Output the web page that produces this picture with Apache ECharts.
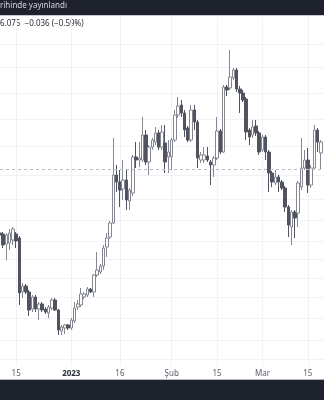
<!DOCTYPE html>
<html><head><meta charset="utf-8">
<script src="https://cdn.jsdelivr.net/npm/echarts@6/dist/echarts.min.js"></script>
<style>html,body{margin:0;padding:0;background:#fff;}#c{width:324px;height:400px;}</style>
</head><body><div id="c"></div>
<script>
const dates = [
'2022-12-10','2022-12-11','2022-12-12','2022-12-13','2022-12-14','2022-12-15','2022-12-16','2022-12-17','2022-12-18','2022-12-19',
'2022-12-20','2022-12-21','2022-12-22','2022-12-23','2022-12-24','2022-12-25','2022-12-26','2022-12-27','2022-12-28','2022-12-29',
'2022-12-30','2022-12-31','2023-01-01','2023-01-02','2023-01-03','2023-01-04','2023-01-05','2023-01-06','2023-01-07','2023-01-08',
'2023-01-09','2023-01-10','2023-01-11','2023-01-12','2023-01-13','2023-01-14','2023-01-15','2023-01-16','2023-01-17','2023-01-18',
'2023-01-19','2023-01-20','2023-01-21','2023-01-22','2023-01-23','2023-01-24','2023-01-25','2023-01-26','2023-01-27','2023-01-28',
'2023-01-29','2023-01-30','2023-01-31','2023-02-01','2023-02-02','2023-02-03','2023-02-04','2023-02-05','2023-02-06','2023-02-07',
'2023-02-08','2023-02-09','2023-02-10','2023-02-11','2023-02-12','2023-02-13','2023-02-14','2023-02-15','2023-02-16','2023-02-17',
'2023-02-18','2023-02-19','2023-02-20','2023-02-21','2023-02-22','2023-02-23','2023-02-24','2023-02-25','2023-02-26','2023-02-27',
'2023-02-28','2023-03-01','2023-03-02','2023-03-03','2023-03-04','2023-03-05','2023-03-06','2023-03-07','2023-03-08','2023-03-09',
'2023-03-10','2023-03-11','2023-03-12','2023-03-13','2023-03-14','2023-03-15','2023-03-16','2023-03-17','2023-03-18','2023-03-19',
'2023-03-20'];

const openP = [
5.445,5.435,5.335,5.345,5.375,5.435,5.395,4.855,4.915,4.855,
4.685,4.805,4.685,4.735,4.685,4.645,4.695,4.775,4.675,4.465,
4.495,4.525,4.495,4.565,4.705,4.725,4.805,4.825,4.885,4.855,
5.025,5.055,5.115,5.305,5.405,5.545,6.025,5.955,5.885,5.975,
5.765,5.845,6.205,6.175,6.175,6.425,6.155,6.305,6.355,6.445,
6.305,6.345,6.205,6.205,6.375,6.625,6.725,6.645,6.495,6.375,
6.675,6.555,6.175,6.175,6.215,6.155,6.125,6.195,6.465,6.255,
6.905,6.895,6.995,7.075,6.885,6.845,6.785,6.475,6.425,6.515,
6.445,6.275,6.405,6.255,6.045,5.945,6.005,5.955,5.895,5.705,
5.505,5.655,5.645,5.905,6.095,6.175,5.925,6.095,6.475,6.245];
const closeP = [
5.425,5.325,5.425,5.445,5.485,5.365,4.845,4.915,4.855,4.675,
4.805,4.685,4.735,4.675,4.655,4.705,4.775,4.675,4.475,4.505,
4.525,4.495,4.575,4.695,4.735,4.835,4.835,4.885,4.855,5.025,
5.075,5.115,5.295,5.395,5.545,6.025,5.955,5.875,5.975,5.775,
5.875,6.205,6.175,6.195,6.425,6.155,6.305,6.375,6.445,6.305,
6.455,6.155,6.255,6.375,6.625,6.715,6.645,6.475,6.375,6.675,
6.555,6.195,6.225,6.225,6.175,6.125,6.195,6.465,6.255,6.905,
6.875,7.005,7.075,6.885,6.845,6.775,6.455,6.405,6.505,6.445,
6.255,6.405,6.255,6.045,5.955,6.005,5.955,5.895,5.705,5.525,
5.655,5.595,5.945,6.095,6.175,5.925,6.095,6.475,6.355,6.355];
const lowP = [
5.405,5.295,5.175,5.275,5.325,5.295,4.725,4.795,4.835,4.615,
4.655,4.655,4.575,4.655,4.635,4.595,4.675,4.665,4.425,4.425,
4.435,4.475,4.475,4.545,4.675,4.705,4.785,4.805,4.845,4.805,
5.005,5.035,5.075,5.205,5.385,5.535,5.855,5.705,5.775,5.675,
5.675,5.815,6.095,6.105,6.155,6.125,6.025,6.275,6.325,6.275,
6.275,6.045,6.045,6.075,6.355,6.595,6.605,6.405,6.355,6.355,
6.475,6.095,6.145,6.145,6.155,5.925,6.005,6.175,6.235,6.245,
6.815,6.875,6.975,6.855,6.645,6.755,6.375,6.325,6.395,6.415,
6.225,6.255,6.175,5.855,5.905,5.925,5.855,5.875,5.655,5.405,
5.325,5.395,5.505,5.875,6.075,5.845,5.895,6.075,6.255,6.085];
const highP = [
5.465,5.455,5.445,5.485,5.505,5.455,5.415,4.945,4.935,4.875,
4.825,4.825,4.755,4.755,4.705,4.725,4.795,4.795,4.685,4.525,
4.535,4.535,4.595,4.755,4.775,4.895,4.855,4.905,4.895,5.035,
5.255,5.135,5.325,5.445,5.565,6.395,6.125,6.075,6.175,6.075,
5.895,6.225,6.355,6.355,6.605,6.475,6.325,6.395,6.505,6.475,
6.525,6.525,6.375,6.395,6.675,6.805,6.775,6.675,6.515,6.725,
6.725,6.575,6.255,6.305,6.305,6.175,6.215,6.605,6.485,6.925,
6.925,7.275,7.095,7.095,6.915,6.875,6.805,6.495,6.575,6.575,
6.465,6.425,6.425,6.275,6.065,6.075,6.025,5.975,5.915,5.725,
5.675,5.675,5.965,6.395,6.275,6.295,6.125,6.525,6.495,6.375];

const gridLevels = [7.335,7.105,6.845,6.585,6.315,6.025,5.785,5.575,5.365,5.185,4.995,4.805,4.595,4.375,4.185];
const lastPrice = 6.075;
const tickDates = ['2022-12-15','2023-01-01','2023-01-16','2023-02-01','2023-02-15','2023-03-01','2023-03-15'];
const tickLabels = ['15','2023','16','Şub','15','Mar','15'];

const candleData = dates.map((d, i) => i < openP.length ? [openP[i], closeP[i], lowP[i], highP[i]] : '-');
const FONT = 'Noto Sans';

const chart = echarts.init(document.getElementById('c'), null, {renderer: 'canvas'});
chart.setOption({
  animation: false,
  backgroundColor: '#ffffff',
  grid: {left: -0.25, right: -0.75, top: 17, bottom: 34},
  xAxis: {
    type: 'category', data: dates, boundaryGap: false,
    axisLine: {show: false}, axisTick: {show: false},
    splitLine: {show: true, interval: (i, v) => tickDates.includes(v), lineStyle: {color: '#f1f2f5', width: 1}},
    axisLabel: {
      interval: (i, v) => tickDates.includes(v), margin: 4,
      formatter: v => { const k = tickDates.indexOf(v); const t = tickLabels[k]; return t === '2023' ? '{b|' + t + '}' : t; },
      color: '#5d606b', fontSize: 8, fontFamily: FONT,
      rich: {b: {fontWeight: 'bold', color: '#2a2e39', fontSize: 8, fontFamily: FONT}}
    }
  },
  yAxis: {
    type: 'value', min: 4.115, max: 7.605, scale: true,
    axisLine: {show: false}, axisLabel: {show: false},
    axisTick: {show: false, customValues: gridLevels},
    splitLine: {show: true, lineStyle: {color: '#f1f2f5', width: 1}}
  },
  series: [{
    type: 'candlestick', data: candleData, barWidth: 3,
    itemStyle: {color: '#ffffff', color0: '#51545e', borderColor: '#858893', borderColor0: '#51545e', borderWidth: 1},
    markLine: {
      silent: true, symbol: ['none', 'none'], label: {show: false},
      lineStyle: {type: [3, 3], color: '#b8bbc3', width: 1},
      data: [{yAxis: lastPrice}]
    }
  }],
  graphic: [
    {type: 'rect', shape: {x: 0, y: 0, width: 324, height: 15}, style: {fill: '#1e222d'}},
    {type: 'rect', shape: {x: 0, y: 15, width: 324, height: 1}, style: {fill: '#c9ccd4'}},
    {type: 'text', left: 0, top: 2, style: {text: 'rihinde yayınlandı', fill: '#d1d4dc', font: '8px "Noto Sans"'}},
    {type: 'text', left: 0, top: 20, style: {text: '6.075  −0.036 (−0.59%)', fill: '#2a2e39', font: '8px "Noto Sans"'}},
    {type: 'rect', shape: {x: 0, y: 380, width: 324, height: 20}, style: {fill: '#1e222d'}},
    {type: 'rect', shape: {x: 0, y: 379, width: 324, height: 1}, style: {fill: '#b2b5be'}}
  ]
});
</script></body></html>
